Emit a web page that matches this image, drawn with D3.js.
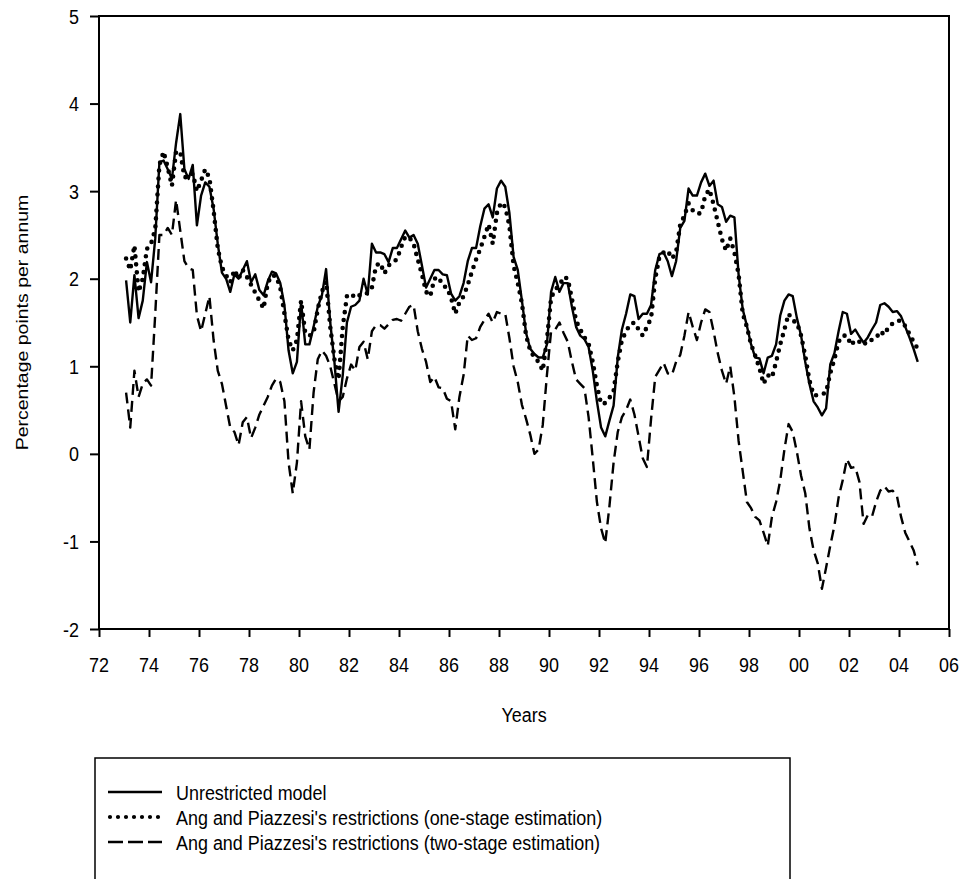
<!DOCTYPE html>
<html>
<head>
<meta charset="utf-8">
<script src="https://cdn.jsdelivr.net/npm/d3@7"></script>
<style>
  body { margin: 0; background: #fff; }
  svg { display: block; font-family: "Liberation Sans", Arial, sans-serif; }
  .axis path, .axis line { stroke: #000; stroke-width: 2; }
</style>
</head>
<body>
<div id="chart"></div>
<script>
// bimonthly readings, first point Feb 1973
var firstObs = 1973 + 1/12;
var obsStep = 1/6;

var unrestricted = [
1.98,1.50,2.04,1.55,1.75,2.19,
1.96,2.46,3.33,3.35,3.25,3.14,
3.55,3.88,3.25,3.14,3.30,2.61,
2.95,3.10,3.05,2.80,2.40,2.07,
2.00,1.85,2.05,2.00,2.10,2.20,
1.96,2.05,1.87,1.81,1.97,2.08,
2.06,1.95,1.70,1.18,0.92,1.05,
1.73,1.25,1.25,1.45,1.68,1.81,
2.11,1.50,1.05,0.48,0.90,1.50,
1.68,1.70,1.75,2.00,1.82,2.40,
2.30,2.30,2.28,2.19,2.35,2.35,
2.45,2.55,2.47,2.50,2.40,2.15,
1.90,2.00,2.10,2.10,2.05,2.04,
1.83,1.75,1.80,1.95,2.20,2.35,
2.35,2.60,2.80,2.85,2.70,3.03,
3.12,3.05,2.75,2.25,2.10,1.75,
1.38,1.20,1.14,1.10,1.10,1.25,
1.85,2.02,1.85,1.95,1.95,1.68,
1.45,1.35,1.31,1.22,0.95,0.60,
0.30,0.20,0.38,0.55,1.10,1.42,
1.60,1.82,1.80,1.54,1.60,1.60,
1.70,2.10,2.28,2.30,2.20,2.03,
2.20,2.58,2.66,3.03,2.95,2.95,
3.10,3.20,3.06,3.12,2.85,2.82,
2.65,2.72,2.70,2.05,1.65,1.46,
1.25,1.10,1.09,0.92,1.10,1.12,
1.25,1.58,1.75,1.82,1.80,1.55,
1.35,1.05,0.80,0.60,0.53,0.44,
0.52,1.02,1.15,1.40,1.62,1.60,
1.37,1.42,1.34,1.27,1.33,1.42,
1.50,1.70,1.72,1.68,1.62,1.63,
1.57,1.45,1.33,1.20,1.05
];

var oneStage = [
2.23,2.10,2.38,1.85,2.00,2.34,
2.40,2.57,3.30,3.45,3.27,3.06,
3.45,3.45,3.16,3.16,3.20,3.00,
3.12,3.25,3.15,2.78,2.35,2.13,
2.04,1.96,2.10,2.00,2.10,2.02,
1.93,1.84,1.75,1.66,1.95,2.04,
2.03,1.90,1.60,1.30,1.18,1.30,
1.75,1.38,1.35,1.38,1.65,1.85,
1.97,1.45,1.08,0.85,1.45,1.80,
1.83,1.78,1.81,1.81,1.84,1.90,
2.15,2.18,2.06,2.15,2.19,2.22,
2.36,2.48,2.47,2.40,2.22,2.05,
1.85,1.80,2.00,2.02,1.92,1.90,
1.78,1.60,1.73,1.80,1.93,2.08,
2.22,2.34,2.48,2.62,2.40,2.75,
2.87,2.82,2.60,2.15,1.95,1.72,
1.35,1.18,1.10,1.05,0.95,1.30,
1.78,1.88,1.92,2.02,2.00,1.77,
1.52,1.42,1.33,1.26,1.05,0.78,
0.57,0.58,0.64,0.72,1.05,1.30,
1.40,1.48,1.50,1.42,1.35,1.45,
1.55,2.00,2.25,2.30,2.32,2.23,
2.30,2.62,2.72,2.86,2.78,2.74,
2.75,2.95,3.02,2.85,2.65,2.45,
2.32,2.46,2.30,2.05,1.60,1.45,
1.25,1.12,0.98,0.80,0.90,0.87,
1.05,1.25,1.42,1.60,1.52,1.50,
1.35,1.12,0.84,0.67,0.67,0.68,
0.70,0.92,1.08,1.28,1.35,1.35,
1.24,1.30,1.28,1.24,1.30,1.30,
1.32,1.40,1.36,1.45,1.49,1.52,
1.52,1.46,1.37,1.28,1.20
];

var twoStage = [
0.70,0.30,0.95,0.65,0.80,0.85,
0.78,1.60,2.50,2.50,2.58,2.50,
2.90,2.55,2.20,2.12,2.10,1.58,
1.40,1.60,1.80,1.30,0.95,0.80,
0.55,0.30,0.25,0.10,0.36,0.42,
0.18,0.30,0.45,0.55,0.65,0.78,
0.86,0.82,0.60,-0.10,-0.45,-0.10,
0.60,0.20,0.05,0.70,1.08,1.18,
1.12,1.00,0.80,0.60,0.65,0.86,
1.02,0.95,1.22,1.28,1.08,1.40,
1.47,1.47,1.43,1.48,1.53,1.54,
1.52,1.60,1.68,1.70,1.40,1.20,
1.05,0.82,0.88,0.76,0.75,0.63,
0.60,0.28,0.65,0.90,1.35,1.30,
1.32,1.45,1.53,1.60,1.50,1.62,
1.60,1.60,1.32,1.00,0.82,0.56,
0.40,0.22,0.00,0.05,0.33,0.90,
1.40,1.42,1.50,1.38,1.28,1.05,
0.85,0.80,0.75,0.42,-0.05,-0.55,
-0.85,-1.02,-0.60,-0.10,0.25,0.42,
0.50,0.62,0.45,0.20,-0.05,-0.15,
0.40,0.88,0.96,1.04,0.92,0.90,
1.05,1.13,1.35,1.62,1.45,1.30,
1.50,1.65,1.62,1.40,1.15,0.95,
0.80,1.00,0.65,0.15,-0.20,-0.55,
-0.62,-0.72,-0.76,-0.90,-1.05,-0.72,
-0.55,-0.30,0.05,0.34,0.25,0.02,
-0.25,-0.45,-0.85,-1.10,-1.25,-1.54,
-1.30,-1.05,-0.82,-0.50,-0.30,-0.06,
-0.16,-0.15,-0.32,-0.80,-0.70,-0.72,
-0.55,-0.42,-0.37,-0.43,-0.42,-0.48,
-0.72,-0.90,-1.00,-1.10,-1.27
];

var yearTicks = [1972,1974,1976,1978,1980,1982,1984,1986,1988,1990,1992,1994,1996,1998,2000,2002,2004,2006];
var valueTicks = [-2,-1,0,1,2,3,4,5];

var legendLabels = [
  "Unrestricted model",
  "Ang and Piazzesi's restrictions (one-stage estimation)",
  "Ang and Piazzesi's restrictions (two-stage estimation)"
];

var width = 961, height = 879;
var plot = {left: 99, right: 949, top: 16, bottom: 629};
var squeeze = 0.855; // glyphs in the original are a bit narrow

var x = d3.scaleLinear().domain([1972, 2006]).range([plot.left, plot.right]);
var y = d3.scaleLinear().domain([-2, 5]).range([plot.bottom, plot.top]);

var svg = d3.select("#chart").append("svg")
    .attr("width", width)
    .attr("height", height);

function addText(g, tx, ty, str, anchor, size) {
  return g.append("text")
    .attr("transform", "translate(" + tx + "," + ty + ") scale(" + squeeze + ",1)")
    .attr("text-anchor", anchor)
    .attr("dy", "0.36em")
    .style("font-size", (size || 21) + "px")
    .text(str);
}

// frame
svg.append("rect")
    .attr("x", plot.left).attr("y", plot.top)
    .attr("width", plot.right - plot.left)
    .attr("height", plot.bottom - plot.top)
    .attr("fill", "none").attr("stroke", "#000").attr("stroke-width", 2);

// axes
var yAxis = svg.append("g")
    .attr("class", "axis")
    .attr("transform", "translate(" + plot.left + ",0)")
    .call(d3.axisLeft(y).tickValues(valueTicks).tickSize(9).tickFormat(""));
yAxis.select(".domain").remove();

var xAxis = svg.append("g")
    .attr("class", "axis")
    .attr("transform", "translate(0," + plot.bottom + ")")
    .call(d3.axisBottom(x).tickValues(yearTicks).tickSize(8).tickFormat(""));
xAxis.select(".domain").remove();

valueTicks.forEach(function(v) {
  addText(svg, 79, y(v), String(v), "end");
});
yearTicks.forEach(function(t) {
  addText(svg, x(t), 664, String(t % 100).padStart(2, "0"), "middle");
});

addText(svg, (plot.left + plot.right) / 2, 714, "Years", "middle");

svg.append("text")
    .attr("transform", "translate(22," + ((plot.top + plot.bottom) / 2) + ") rotate(-90) scale(1," + squeeze + ")")
    .attr("text-anchor", "middle")
    .attr("dy", "0.36em")
    .style("font-size", "19.5px")
    .text("Percentage points per annum");

// series
var line = d3.line()
    .x(function(d, i) { return x(firstObs + i * obsStep); })
    .y(function(d) { return y(d); });

var styles = [
  {data: twoStage, width: 2.4, dash: "11,6", cap: "butt"},
  {data: oneStage, width: 4.6, dash: "0,8", cap: "round"},
  {data: unrestricted, width: 2.4, dash: null, cap: "butt"}
];

styles.forEach(function(s) {
  svg.append("path")
    .datum(s.data)
    .attr("fill", "none")
    .attr("stroke", "#000")
    .attr("stroke-width", s.width)
    .attr("stroke-linecap", s.cap)
    .attr("stroke-linejoin", "round")
    .attr("stroke-dasharray", s.dash)
    .attr("d", line);
});

// legend
var legend = svg.append("g");
legend.append("rect")
    .attr("x", 95).attr("y", 758)
    .attr("width", 695).attr("height", 140)
    .attr("fill", "none").attr("stroke", "#000").attr("stroke-width", 1.5);

var legendStyles = [
  {width: 2.4, dash: null, cap: "butt"},
  {width: 4.2, dash: "0,8", cap: "round"},
  {width: 2.4, dash: "15,5", cap: "butt"}
];

legendLabels.forEach(function(lbl, i) {
  var ly = 792 + i * 25;
  legend.append("line")
    .attr("x1", i === 1 ? 110 : 108).attr("x2", 162)
    .attr("y1", ly).attr("y2", ly)
    .attr("stroke", "#000")
    .attr("stroke-width", legendStyles[i].width)
    .attr("stroke-linecap", legendStyles[i].cap)
    .attr("stroke-dasharray", legendStyles[i].dash);
  addText(legend, 176, ly, lbl, "start");
});
</script>
</body>
</html>
